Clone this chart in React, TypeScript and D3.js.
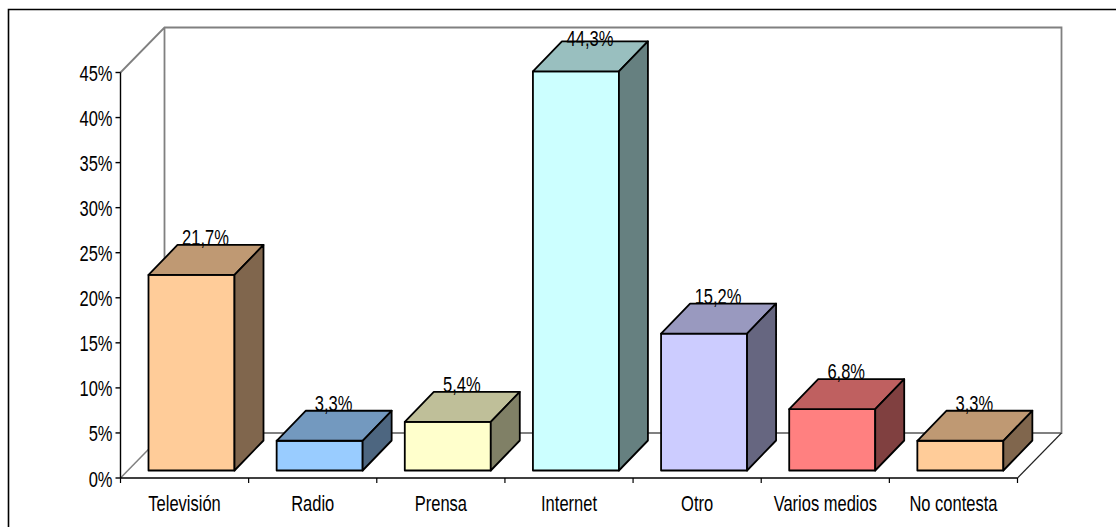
import * as d3 from "d3";
import { useEffect, useRef } from "react";

const categories = ["Televisión", "Radio", "Prensa", "Internet", "Otro", "Varios medios", "No contesta"];
const values = [21.7, 3.3, 5.4, 44.3, 15.2, 6.8, 3.3];
const valueLabels = ["21,7%", "3,3%", "5,4%", "44,3%", "15,2%", "6,8%", "3,3%"];
const barColors = ["#FFCC99", "#99CCFF", "#FFFFCC", "#CCFFFF", "#CCCCFF", "#FF8080", "#FFCC99"];
const yTicks = [0, 5, 10, 15, 20, 25, 30, 35, 40, 45];

const width = 1116;
const height = 527;
const fontFamily = '"Liberation Sans", Arial, sans-serif';
const fontSize = "22px";
const squeeze = 0.75; // the original text is horizontally condensed

export default function App() {
  const svgRef = useRef<SVGSVGElement>(null);

  useEffect(() => {
    if (!svgRef.current) return;
    const svg = d3.select(svgRef.current);
    svg.selectAll("*").remove();

    // front plane of the 3D box
    const x = d3.scaleBand<string>().domain(categories).range([120.5, 1017.5]);
    const y = d3.scaleLinear().domain([0, 45]).range([478, 72.5]);

    const depthX = 44;
    const depthY = -45;
    const barDepthX = 29;
    const barDepthY = -30;
    const barOffset = 28;
    const barWidth = 86;
    const barLift = 8;

    const label = (sel: any, px: any, py: any) =>
      sel
        .attr("transform", (d: any, i: number) => `translate(${px(d, i)},${py(d, i)}) scale(${squeeze},1)`)
        .style("font-family", fontFamily)
        .style("font-size", fontSize)
        .style("fill", "#000");

    // chart frame
    svg
      .append("path")
      .attr("d", `M8.5,${height} V9.5 H${width}`)
      .attr("fill", "none")
      .attr("stroke", "#000")
      .attr("stroke-width", 1.6);

    // walls and floor
    const gray = "#808080";
    const x0 = x.range()[0];
    const x1 = x.range()[1];
    const floorY = y(0);
    const topY = y(45);

    svg
      .append("path")
      .attr(
        "d",
        `M${x0},${topY} L${x0 + depthX},${topY + depthY} H${x1 + depthX} V${floorY + depthY} H${x0 + depthX} V${topY + depthY}`
      )
      .attr("fill", "none")
      .attr("stroke", gray)
      .attr("stroke-width", 1.8);

    svg
      .append("path")
      .attr("d", `M${x0},${floorY} L${x0 + depthX},${floorY + depthY}`)
      .attr("fill", "none")
      .attr("stroke", gray)
      .attr("stroke-width", 1.5);

    svg
      .append("path")
      .attr("d", `M${x1},${floorY} L${x1 + depthX},${floorY + depthY}`)
      .attr("fill", "none")
      .attr("stroke", "#222")
      .attr("stroke-width", 1.1);

    // y axis
    svg
      .append("line")
      .attr("x1", x0)
      .attr("x2", x0)
      .attr("y1", topY)
      .attr("y2", floorY)
      .attr("stroke", "#000")
      .attr("stroke-width", 1.4);

    const yAxis = svg.append("g").selectAll("g").data(yTicks).enter().append("g");
    yAxis
      .append("line")
      .attr("x1", x0 - 5)
      .attr("x2", x0)
      .attr("y1", (d) => y(d))
      .attr("y2", (d) => y(d))
      .attr("stroke", "#000")
      .attr("stroke-width", 1.4);
    yAxis
      .append("text")
      .call(label, () => x0 - 8, (d: number) => y(d) + 8.5)
      .attr("text-anchor", "end")
      .text((d) => `${d}%`);

    // x axis
    svg
      .append("line")
      .attr("x1", x0)
      .attr("x2", x1)
      .attr("y1", floorY)
      .attr("y2", floorY)
      .attr("stroke", "#000")
      .attr("stroke-width", 1.4);

    svg
      .append("g")
      .selectAll("line")
      .data([...categories.map((c) => x(c)!), x1])
      .enter()
      .append("line")
      .attr("x1", (d) => d)
      .attr("x2", (d) => d)
      .attr("y1", floorY)
      .attr("y2", floorY + 5)
      .attr("stroke", "#000")
      .attr("stroke-width", 1.2);

    svg
      .append("g")
      .selectAll("text")
      .data(categories)
      .enter()
      .append("text")
      .call(label, (d: string) => x(d)! + x.bandwidth() / 2, () => 511)
      .attr("text-anchor", "middle")
      .text((d) => d);

    // bars
    const barY = (v: number) => y(v) - barLift + 0.5;
    const poly = (pts: [number, number][]) => d3.line()(pts) + "Z";

    const shade = (c: string, k: number) => {
      const r = d3.rgb(c);
      return d3.rgb(r.r * k, r.g * k, r.b * k).formatHex();
    };

    const bars = svg
      .append("g")
      .selectAll("g")
      .data(categories)
      .enter()
      .append("g");

    bars.each(function (c, i) {
      const g = d3.select(this);
      const left = x(c)! + barOffset;
      const right = left + barWidth;
      const top = barY(values[i]);
      const bottom = barY(0);

      const faces: [[number, number][], number][] = [
        [
          [
            [left, top],
            [right, top],
            [right, bottom],
            [left, bottom],
          ],
          1,
        ],
        [
          [
            [left, top],
            [left + barDepthX, top + barDepthY],
            [right + barDepthX, top + barDepthY],
            [right, top],
          ],
          0.75,
        ],
        [
          [
            [right, top],
            [right + barDepthX, top + barDepthY],
            [right + barDepthX, bottom + barDepthY],
            [right, bottom],
          ],
          0.5,
        ],
      ];

      faces.forEach(([pts, k]) => {
        g.append("path")
          .attr("d", poly(pts))
          .attr("fill", shade(barColors[i], k))
          .attr("stroke", "#000")
          .attr("stroke-width", 1.8)
          .attr("stroke-linejoin", "round");
      });
    });

    // value labels, on the back edge of each bar top, kept clear of the frame
    svg
      .append("g")
      .selectAll("text")
      .data(categories)
      .enter()
      .append("text")
      .call(
        label,
        (d: string) => x(d)! + barOffset + barWidth / 2 + 14,
        (_: string, i: number) => Math.max(46, barY(values[i]) + barDepthY)
      )
      .attr("text-anchor", "middle")
      .text((d, i) => valueLabels[i]);
  }, []);

  return (
    <svg
      ref={svgRef}
      width={width}
      height={height}
      style={{ position: "absolute", left: 0, top: 0, background: "#fff" }}
    />
  );
}
